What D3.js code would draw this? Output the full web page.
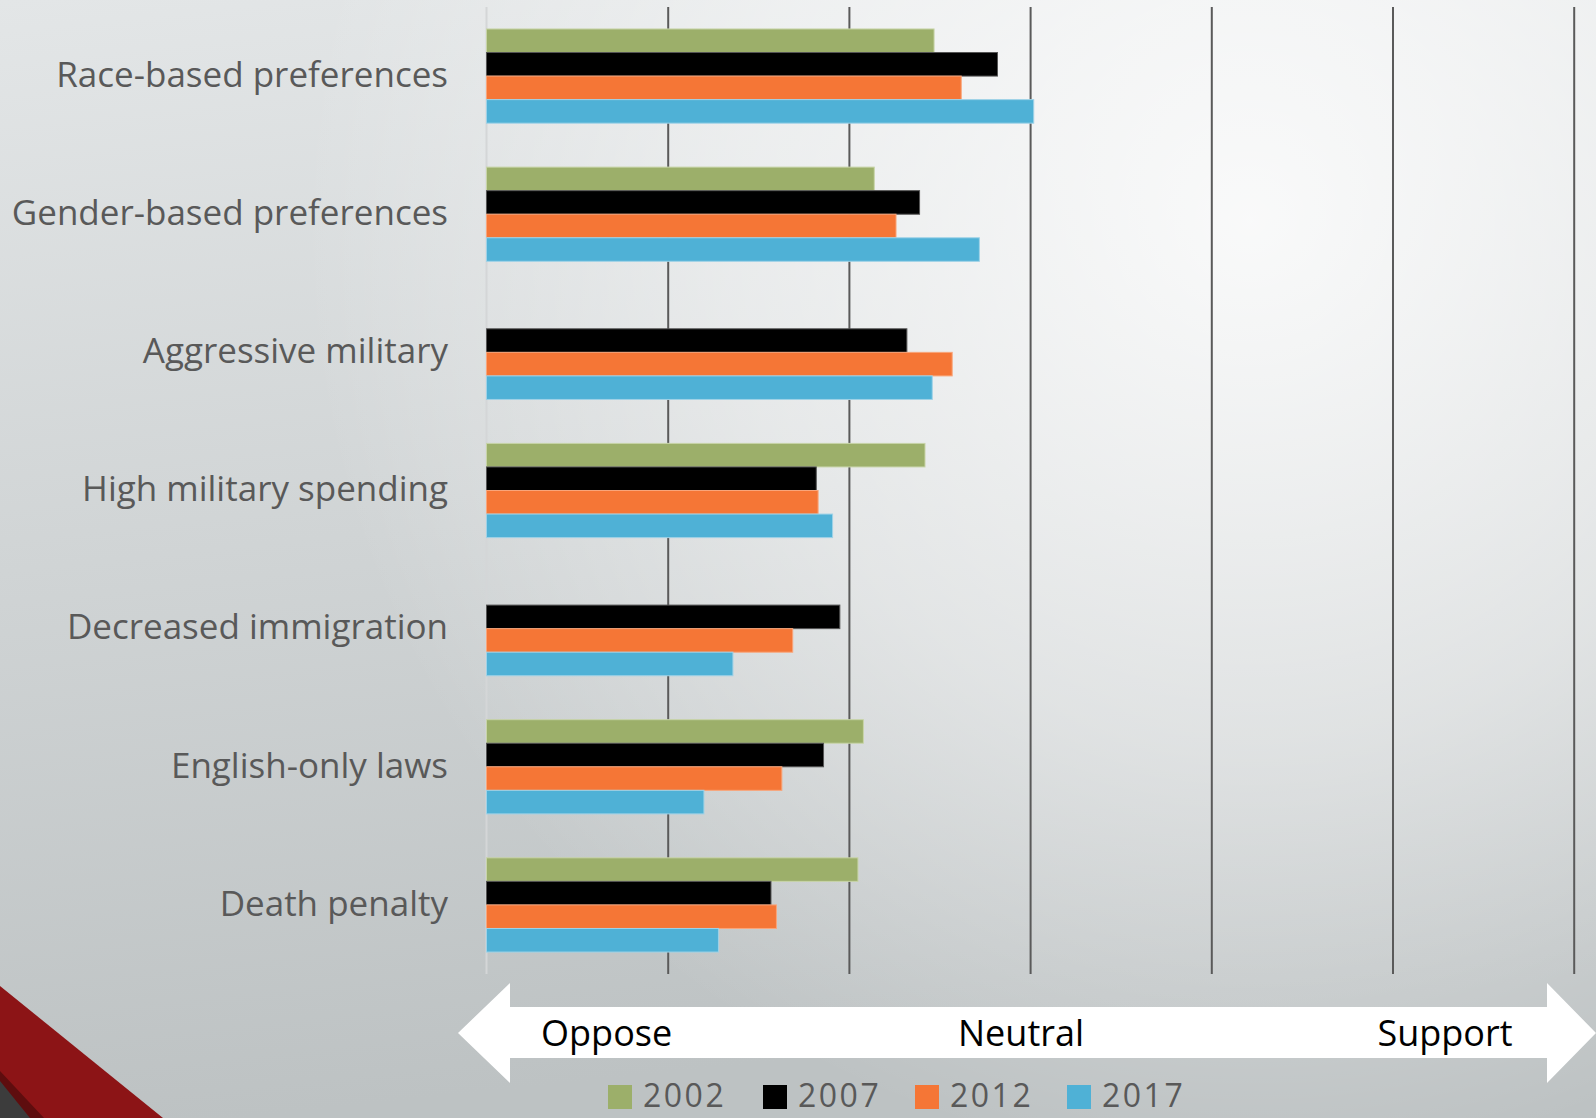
<!DOCTYPE html>
<html>
<head>
<meta charset="utf-8">
<script src="https://cdn.jsdelivr.net/npm/d3@7"></script>
<style>
  html, body { margin: 0; padding: 0; overflow: hidden; }
  svg { display: block; }
</style>
</head>
<body>
<svg id="chart" width="1596" height="1118"></svg>
<script>
// ---------- data ----------
const categories = [
  "Race-based preferences",
  "Gender-based preferences",
  "Aggressive military",
  "High military spending",
  "Decreased immigration",
  "English-only laws",
  "Death penalty"
];
const seriesNames = ["2002", "2007", "2012", "2017"];
const values2002 = [3.47, 3.14, null, 3.42, null, 3.08, 3.05];
const values2007 = [3.82, 3.39, 3.32, 2.82, 2.95, 2.86, 2.57];
const values2012 = [3.62, 3.26, 3.57, 2.83, 2.69, 2.63, 2.60];
const values2017 = [4.02, 3.72, 3.46, 2.91, 2.36, 2.20, 2.28];
const seriesColors = ["#9caf6a", "#000000", "#f57636", "#4fb1d6"];
const seriesStrokes = ["#c8d4a8", "#555555", "#f9a57a", "#9fd2e7"];
const scaleLabels = ["Oppose", "Neutral", "Support"];
const scaleLabelValues = [1.663, 3.95, 6.29];
const tickValues = [1, 2, 3, 4, 5, 6, 7];

const seriesValues = [values2002, values2007, values2012, values2017];

// ---------- layout ----------
const W = 1596, H = 1118;
const svg = d3.select("#chart");
const defs = svg.append("defs");

const lin = defs.append("linearGradient").attr("id", "bgLin")
  .attr("x1", 0).attr("y1", 0).attr("x2", 0.15).attr("y2", 1);
lin.append("stop").attr("offset", "0%").attr("stop-color", "#e3e6e7");
lin.append("stop").attr("offset", "100%").attr("stop-color", "#bdc2c3");

const rad = defs.append("radialGradient").attr("id", "bgRad")
  .attr("gradientUnits", "userSpaceOnUse")
  .attr("cx", 1250).attr("cy", 220).attr("r", 950);
rad.append("stop").attr("offset", "0%").attr("stop-color", "#ffffff").attr("stop-opacity", 0.85);
rad.append("stop").attr("offset", "55%").attr("stop-color", "#ffffff").attr("stop-opacity", 0.45);
rad.append("stop").attr("offset", "100%").attr("stop-color", "#ffffff").attr("stop-opacity", 0);

svg.append("rect").attr("width", W).attr("height", H).attr("fill", "url(#bgLin)");
svg.append("rect").attr("width", W).attr("height", H).attr("fill", "url(#bgRad)");

// decorative corner
svg.append("polygon").attr("points", "0,986 163,1118 0,1118").attr("fill", "#8c1416");
svg.append("polygon").attr("points", "0,1071 44,1118 0,1118").attr("fill", "#5e0d0e");
svg.append("polygon").attr("points", "0,1081 30,1118 0,1118").attr("fill", "#3c3c3c");

const plotTop = 7, plotBottom = 974;
const x = d3.scaleLinear().domain([1, 7]).range([486.5, 1573.7]);
const y0 = d3.scaleBand().domain(categories).range([plotTop, plotBottom])
  .paddingInner(0.318).paddingOuter(0.159);
const y1 = d3.scaleBand().domain(seriesNames).range([0, y0.bandwidth()]);

// gridlines via axis
const grid = svg.append("g")
  .attr("transform", `translate(0,${plotTop})`)
  .call(d3.axisBottom(x).tickValues(tickValues.slice(1)).tickSize(plotBottom - plotTop).tickFormat(""));
grid.select(".domain").remove();
grid.selectAll(".tick line").attr("stroke", "#5a5a5a").attr("stroke-width", 2);

// left axis line
svg.append("line")
  .attr("x1", x(1)).attr("x2", x(1)).attr("y1", plotTop).attr("y2", plotBottom)
  .attr("stroke", "#d4d6d7").attr("stroke-width", 2);

// bars
const groups = svg.append("g").selectAll("g")
  .data(categories).join("g")
  .attr("transform", d => `translate(0,${y0(d)})`);

groups.selectAll("rect")
  .data((c, i) => seriesNames.map((s, j) => ({ s, j, v: seriesValues[j][i] })).filter(d => d.v != null))
  .join("rect")
  .attr("x", x(1))
  .attr("y", d => y1(d.s))
  .attr("width", d => x(d.v) - x(1))
  .attr("height", y1.bandwidth())
  .attr("fill", d => seriesColors[d.j])
  .attr("stroke", d => seriesStrokes[d.j])
  .attr("stroke-width", 1);

// category labels
svg.append("g").selectAll("text")
  .data(categories).join("text")
  .attr("x", 448)
  .attr("y", d => y0(d) + y0.bandwidth() / 2)
  .attr("dy", "0.31em")
  .attr("text-anchor", "end")
  .attr("font-family", "'Open Sans', sans-serif")
  .attr("font-size", 35)
  .attr("fill", "#595959")
  .text(d => d);

// double arrow
const aL = 458, aR = 1596, hL = 510, hR = 1547, aMid = 1033;
const headTop = 983, headBot = 1083, shaftTop = 1007, shaftBot = 1058;
svg.append("polygon")
  .attr("points", [
    [aL, aMid], [hL, headTop], [hL, shaftTop], [hR, shaftTop], [hR, headTop],
    [aR, aMid], [hR, headBot], [hR, shaftBot], [hL, shaftBot], [hL, headBot]
  ].map(p => p.join(",")).join(" "))
  .attr("fill", "#ffffff");

svg.append("g").selectAll("text")
  .data(scaleLabels).join("text")
  .attr("x", (d, i) => x(scaleLabelValues[i]))
  .attr("y", 1046)
  .attr("text-anchor", "middle")
  .attr("font-family", "'Open Sans', sans-serif")
  .attr("font-size", 36)
  .attr("fill", "#000000")
  .text(d => d);

// legend
const legendX = [608, 763, 915, 1067];
const leg = svg.append("g").selectAll("g")
  .data(seriesNames).join("g")
  .attr("transform", (d, i) => `translate(${legendX[i]},1085)`);
leg.append("rect").attr("width", 24).attr("height", 24)
  .attr("fill", (d, i) => seriesColors[i]);
leg.append("text").attr("x", 35).attr("y", 22)
  .attr("font-family", "'Open Sans', sans-serif")
  .attr("font-size", 32)
  .attr("letter-spacing", 2.5)
  .attr("fill", "#595959")
  .text(d => d);
</script>
</body>
</html>
